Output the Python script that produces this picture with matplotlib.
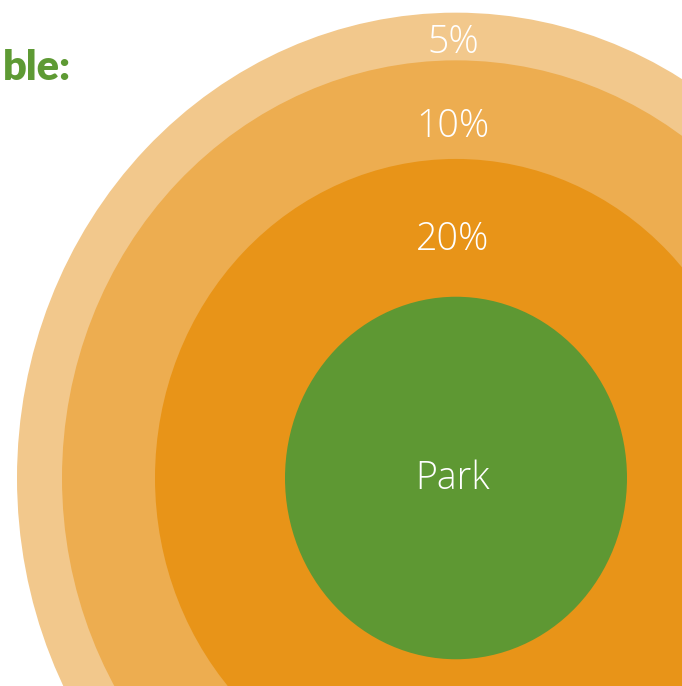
import matplotlib
matplotlib.use("Agg")
import matplotlib.pyplot as plt
from matplotlib.patches import Ellipse

# concentric zones around the park, outermost first
zone_labels = ["5%", "10%", "20%", "Park"]
zone_radii = [439, 394, 301, 171]
zone_colors = ["#F2C88C", "#EDAD50", "#E89418", "#5E9833"]
label_y = [43, 127, 240, 479]

center = (456, 478)
stretch = 1.06  # vertical stretch of the rings

fig = plt.figure(figsize=(6.82, 6.86), dpi=100)
ax = fig.add_axes([0, 0, 1, 1])
ax.set_xlim(0, 682)
ax.set_ylim(686, 0)
ax.axis("off")

for r, c in zip(zone_radii, zone_colors):
    ax.add_patch(Ellipse(center, 2 * r, 2 * r * stretch, color=c, lw=0))

for lab, y in zip(zone_labels, label_y):
    ax.text(center[0] - 3, y, lab, ha="center", va="center", color="white",
            fontsize=27, family="Open Sans", fontweight="light")

ax.text(3, 68, "ble:", ha="left", va="center", color="#5E9A34",
        fontsize=30, family="Lato", fontweight="heavy")

fig.savefig("out.png", dpi=100)
